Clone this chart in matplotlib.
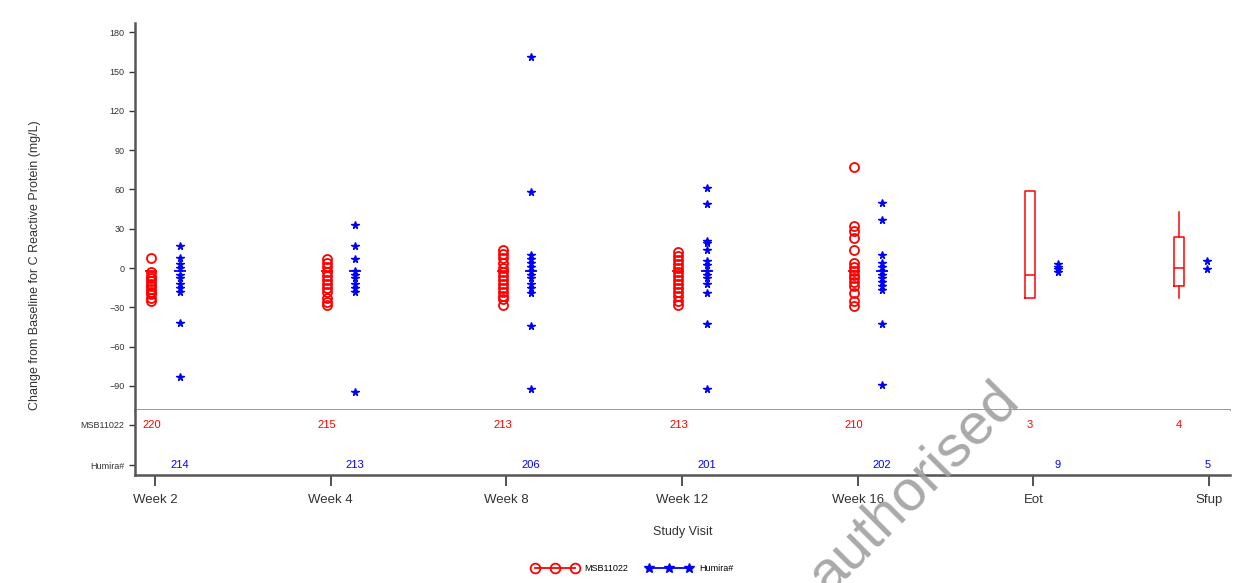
import matplotlib.pyplot as plt
from matplotlib.lines import Line2D

plt.rcParams['font.family'] = ['Liberation Sans Narrow', 'Liberation Sans', 'DejaVu Sans']

visits = ["Week 2", "Week 4", "Week 8", "Week 12", "Week 16", "Eot", "Sfup"]

# individual values, first 5 visits (scatter)
msb_vals = [
    [8, -3, -6, -8, -10, -12, -14, -16, -18, -20, -23, -25],
    [7, 4, 1, -3, -6, -9, -12, -15, -18, -23, -26, -28],
    [14, 11, 8, 4, 0, -3, -6, -9, -12, -15, -18, -21, -24, -28],
    [12, 9, 6, 3, 0, -3, -6, -9, -12, -15, -18, -21, -25, -28],
    [77, 32, 28, 23, 14, 4, 1, -2, -5, -8, -11, -14, -19, -25, -29],
]
hum_vals = [
    [17, 8, 3, 0, -5, -8, -12, -15, -18, -42, -83],
    [33, 17, 7, -2, -5, -8, -12, -15, -18, -95],
    [161, 58, 10, 7, 4, 1, -2, -5, -8, -12, -15, -19, -44, -92],
    [61, 49, 21, 19, 14, 5, 2, -2, -5, -8, -12, -19, -43, -92],
    [50, 37, 10, 4, 1, -2, -5, -8, -11, -14, -17, -43, -89],
    [3, 1, -1, -3],
    [5, -1],
]
msb_med = [-2, -2, -2, -2, -2]
hum_med = [-2, -2, -2, -2, -2]

# MSB11022 at Eot / Sfup shown as boxes
msb_box = [
    dict(med=-5, q1=-23, q3=59, whislo=-23, whishi=59),
    dict(med=0, q1=-14, q3=24, whislo=-23, whishi=43),
]

msb_n = [220, 215, 213, 213, 210, 3, 4]
hum_n = [214, 213, 206, 201, 202, 9, 5]

RED = "#ff0000"
BLUE = "#0000ff"

fig = plt.figure(figsize=(12.53, 5.83), dpi=100)
ax = fig.add_axes([0.1077, 0.2967, 0.874, 0.6638])
tab = fig.add_axes([0.1077, 0.1852, 0.874, 0.1115], sharex=ax)

x_red = [i - 0.02 for i in range(5)] + [4.98, 5.83]
x_blue = [i + 0.14 for i in range(6)] + [5.99]

for i, vals in enumerate(msb_vals):
    ax.plot([x_red[i]] * len(vals), vals, ls="none", marker="o", ms=6.5,
            mfc="none", mec=RED, mew=1.3)
    ax.plot([x_red[i]], [msb_med[i]], ls="none", marker="_", ms=9, mec=RED, mew=1.3)
for i, vals in enumerate(hum_vals):
    ax.plot([x_blue[i]] * len(vals), vals, ls="none", marker="*", ms=5.5,
            color=BLUE)
    if i < 5:
        ax.plot([x_blue[i]], [hum_med[i]], ls="none", marker="_", ms=9,
                mec=BLUE, mew=1.3)

for j, st in enumerate(msb_box):
    st = dict(st, fliers=[])
    ax.bxp([st], positions=[x_red[5 + j]], widths=0.06, showcaps=False,
           boxprops=dict(color=RED, lw=1.1), medianprops=dict(color=RED, lw=1.1),
           whiskerprops=dict(color=RED, lw=1.1), manage_ticks=False)

ax.set_xlim(-0.114, 6.12)
ax.set_ylim(-108.4, 187)
ax.set_yticks(range(-90, 181, 30))
ax.tick_params(axis="y", labelsize=6.5, length=4, width=1, colors="#333333")
ax.tick_params(axis="x", bottom=False, labelbottom=False)
for s in ["top", "right"]:
    ax.spines[s].set_visible(False)
ax.spines["left"].set_color("#555555")
ax.spines["left"].set_linewidth(1.8)
ax.spines["bottom"].set_color("#888888")
ax.spines["bottom"].set_linewidth(1.2)

fig.text(0.028, 0.545, "Change from Baseline for C Reactive Protein (mg/L)",
         rotation=90, ha="center", va="center", fontsize=9, color="#333333")

# number-of-subjects table
for i in range(7):
    tab.text(x_red[i], 0.77, str(msb_n[i]), color=RED, fontsize=8,
             ha="center", va="center")
    tab.text(x_blue[i], 0.154, str(hum_n[i]), color=BLUE, fontsize=8,
             ha="center", va="center")
tab.set_ylim(0, 1)
tab.set_yticks([0.77, 0.154])
tab.set_yticklabels(["MSB11022", "Humira#"])
tab.tick_params(axis="y", labelsize=6.5, length=4, width=1, colors="#333333")
tab.set_xticks(range(7))
tab.set_xticklabels(visits)
tab.tick_params(axis="x", labelsize=9.5, length=8, width=1.2, colors="#333333", pad=6)
for s in ["top", "right"]:
    tab.spines[s].set_visible(False)
for s in ["left", "bottom"]:
    tab.spines[s].set_color("#555555")
    tab.spines[s].set_linewidth(1.8)
tab.set_xlabel("Study Visit", fontsize=9, color="#333333", labelpad=14)

handles = [
    Line2D([], [], color=RED, marker="o", mfc="none", mew=1.3, ms=7, lw=1.3),
    Line2D([], [], color=BLUE, marker="*", ms=7, lw=1.3),
]
fig.legend(handles, ["MSB11022", "Humira#"], loc="center", bbox_to_anchor=(0.505, 0.025),
           ncol=2, frameon=False, fontsize=6.5, numpoints=3, handlelength=5,
           columnspacing=2)

fig.text(0.815, 0.31, "authorised", rotation=45, rotation_mode="anchor",
         ha="right", va="baseline", fontsize=42, color="#a0a0a0", alpha=0.9,
         family="Liberation Sans")

fig.savefig("out.png", dpi=100)
